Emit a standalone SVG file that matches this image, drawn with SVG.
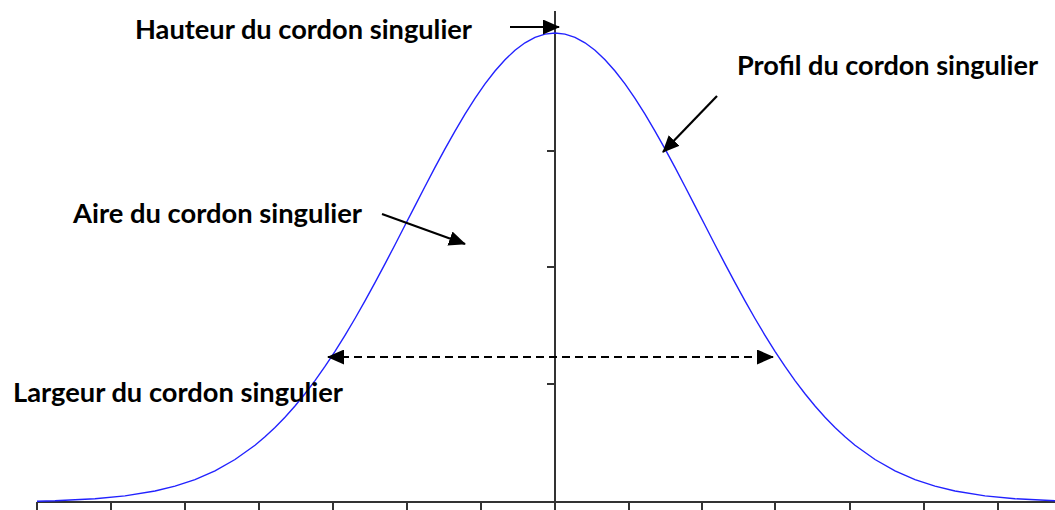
<svg xmlns="http://www.w3.org/2000/svg" width="1055" height="510" viewBox="0 0 1055 510">
<style>
.lbl{font-family:Lato,"Open Sans","Liberation Sans",sans-serif;font-weight:bold;font-size:26px;fill:#000}
.axis{stroke:#333;stroke-width:2;fill:none}
.tick{stroke:#333;stroke-width:2}
.curve{stroke:#2222ff;stroke-width:1.4;fill:none}
.arr{stroke:#000;stroke-width:2.2;fill:none}
.dash{stroke:#000;stroke-width:2;fill:none;stroke-dasharray:8 5}
</style>
<defs>
<marker id="ah" markerUnits="userSpaceOnUse" markerWidth="17" markerHeight="15" refX="16" refY="7.5" orient="auto">
<path d="M0,0 L17,7.5 L0,15 z" fill="#000"/>
</marker>
<marker id="ahs" markerUnits="userSpaceOnUse" markerWidth="17" markerHeight="15" refX="1" refY="7.5" orient="auto">
<path d="M17,0 L0,7.5 L17,15 z" fill="#000"/>
</marker>
</defs>
<rect width="1055" height="510" fill="#fff"/>
<g id="axes">
<line class="axis" x1="37" y1="502" x2="1055" y2="502"/>
<line class="axis" x1="555" y1="11" x2="555" y2="502"/>
<g class="tick">
<line x1="37" y1="502" x2="37" y2="510"/>
<line x1="111" y1="502" x2="111" y2="510"/>
<line x1="185" y1="502" x2="185" y2="510"/>
<line x1="259" y1="502" x2="259" y2="510"/>
<line x1="333" y1="502" x2="333" y2="510"/>
<line x1="407" y1="502" x2="407" y2="510"/>
<line x1="481" y1="502" x2="481" y2="510"/>
<line x1="555" y1="502" x2="555" y2="510"/>
<line x1="629" y1="502" x2="629" y2="510"/>
<line x1="702" y1="502" x2="702" y2="510"/>
<line x1="775" y1="502" x2="775" y2="510"/>
<line x1="850" y1="502" x2="850" y2="510"/>
<line x1="924" y1="502" x2="924" y2="510"/>
<line x1="998" y1="502" x2="998" y2="510"/>
<line x1="547" y1="151" x2="555" y2="151"/>
<line x1="547" y1="267" x2="555" y2="267"/>
<line x1="547" y1="384" x2="555" y2="384"/>
</g>
</g>
<g id="profil-courbe">
<polyline class="curve" points="37,501.2 55,500.7 95,498.7 125,495.9 155,491 175,486.1 195,479.6 215,470.8 235,459.5 255,445.2 265,436.8 275,427.4 285,417.2 295,406 305,393.7 315,380.6 325,366.4 335,351.3 345,335.3 355,318.5 365,300.9 375,282.7 385,263.9 395,244.7 405,225.3 415,205.9 425,186.5 435,167.4 445,148.9 455,131.1 465,114.2 475,98.4 485,83.9 495,71 505,59.7 515,50.3 525,42.8 535,37.4 545,34.1 555,33 565,34.1 575,37.4 585,42.8 595,50.3 605,59.7 615,71 625,83.9 635,98.4 645,114.2 655,131.1 665,148.9 675,167.4 685,186.5 695,205.9 705,225.3 715,244.7 725,263.9 735,282.7 745,300.9 755,318.5 765,335.3 775,351.3 785,366.4 795,380.6 805,393.7 815,406 825,417.2 835,427.4 845,436.8 855,445.2 875,459.5 895,470.8 915,479.6 935,486.1 955,491 985,495.9 1015,498.7 1055,500.7"/>
</g>
<g id="connectors">
<line class="arr" x1="510" y1="27" x2="559" y2="27" marker-end="url(#ah)"/>
<line class="arr" x1="717" y1="96" x2="663" y2="152" marker-end="url(#ah)"/>
<line class="arr" x1="382" y1="214" x2="465" y2="244" marker-end="url(#ah)"/>
<line class="dash" x1="328" y1="357" x2="773" y2="357" marker-start="url(#ahs)" marker-end="url(#ah)"/>
</g>
<g id="label-hauteur"><text class="lbl" x="135" y="39" textLength="337" lengthAdjust="spacingAndGlyphs">Hauteur du cordon singulier</text></g>
<g id="label-profil"><text class="lbl" x="737" y="75" textLength="301" lengthAdjust="spacingAndGlyphs">Profil du cordon singulier</text></g>
<g id="label-aire"><text class="lbl" x="73" y="223" textLength="289" lengthAdjust="spacingAndGlyphs">Aire du cordon singulier</text></g>
<g id="label-largeur"><text class="lbl" x="13" y="402" textLength="330" lengthAdjust="spacingAndGlyphs">Largeur du cordon singulier</text></g>
</svg>
